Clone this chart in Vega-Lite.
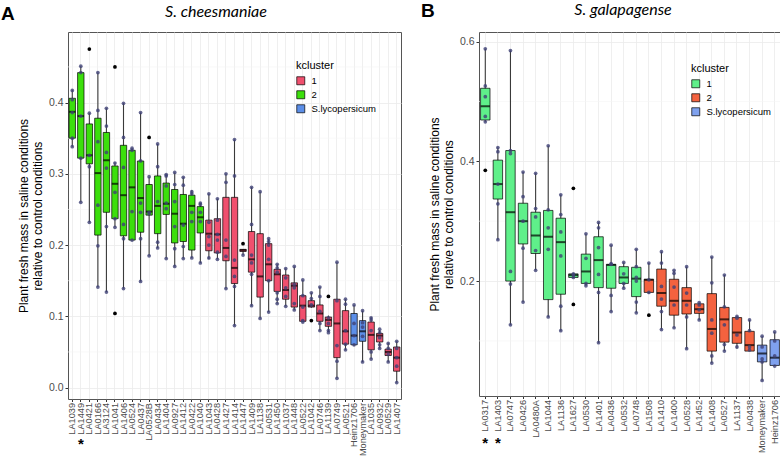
{
"$schema": "https://vega.github.io/schema/vega-lite/v6.json",
"padding": {"left": 0, "top": 1, "right": 0, "bottom": 0},
"background": "white",
"config": {
 "font": "Liberation Sans",
 "view": {"stroke": "#555555", "strokeWidth": 1},
 "axis": {"gridColor": "#EBEBEB", "gridWidth": 0.8, "domain": false, "tickColor": "#333333", "tickSize": 3, "labelColor": "#4D4D4D", "labelFontSize": 10, "titleFontWeight": "normal", "titleFontSize": 12, "titleColor": "#000000"},
 "legend": {"orient": "none", "titleFontSize": 11, "titleFontWeight": "normal", "labelFontSize": 9.5, "symbolType": "square", "symbolSize": 64, "symbolStrokeColor": "#000000", "symbolStrokeWidth": 0.7, "rowPadding": 2, "titlePadding": 5, "labelOffset": 6}
},
"datasets": {
 "boxA": [
  {"acc":"LA1039","cl":"2","lo":0.338,"q1":0.350,"med":0.387,"q3":0.406,"hi":0.418},
  {"acc":"LA1449","cl":"2","lo":0.260,"q1":0.322,"med":0.381,"q3":0.442,"hi":0.451},
  {"acc":"LA0421","cl":"2","lo":0.232,"q1":0.314,"med":0.326,"q3":0.370,"hi":0.385},
  {"acc":"LA0166","cl":"2","lo":0.141,"q1":0.214,"med":0.301,"q3":0.378,"hi":0.442},
  {"acc":"LA3124","cl":"2","lo":0.134,"q1":0.246,"med":0.319,"q3":0.358,"hi":0.392},
  {"acc":"LA1041","cl":"2","lo":0.225,"q1":0.237,"med":0.286,"q3":0.311,"hi":0.316},
  {"acc":"LA1406","cl":"2","lo":0.139,"q1":0.213,"med":0.270,"q3":0.340,"hi":0.399},
  {"acc":"LA0524","cl":"2","lo":0.207,"q1":0.207,"med":0.281,"q3":0.333,"hi":0.336},
  {"acc":"LA0437","cl":"2","lo":0.149,"q1":0.218,"med":0.266,"q3":0.318,"hi":0.386},
  {"acc":"LA0528B","cl":"2","lo":0.185,"q1":0.242,"med":0.247,"q3":0.285,"hi":0.296},
  {"acc":"LA0434","cl":"2","lo":0.196,"q1":0.216,"med":0.255,"q3":0.297,"hi":0.342},
  {"acc":"LA1404","cl":"2","lo":0.181,"q1":0.243,"med":0.258,"q3":0.287,"hi":0.299},
  {"acc":"LA0927","cl":"2","lo":0.170,"q1":0.203,"med":0.244,"q3":0.278,"hi":0.302},
  {"acc":"LA1412","cl":"2","lo":0.181,"q1":0.205,"med":0.230,"q3":0.271,"hi":0.295},
  {"acc":"LA0422","cl":"2","lo":0.182,"q1":0.193,"med":0.255,"q3":0.270,"hi":0.277},
  {"acc":"LA1040","cl":"2","lo":0.175,"q1":0.217,"med":0.239,"q3":0.254,"hi":0.259},
  {"acc":"LA1043","cl":"1","lo":0.180,"q1":0.192,"med":0.216,"q3":0.235,"hi":0.272},
  {"acc":"LA0428","cl":"1","lo":0.180,"q1":0.189,"med":0.215,"q3":0.237,"hi":0.265},
  {"acc":"LA1427","cl":"1","lo":0.139,"q1":0.178,"med":0.196,"q3":0.267,"hi":0.300},
  {"acc":"LA1414","cl":"1","lo":0.087,"q1":0.146,"med":0.168,"q3":0.267,"hi":0.348},
  {"acc":"LA1447","cl":"1","lo":0.186,"q1":0.191,"med":0.193,"q3":0.194,"hi":0.194},
  {"acc":"LA1409","cl":"1","lo":0.115,"q1":0.162,"med":0.180,"q3":0.219,"hi":0.281},
  {"acc":"LA1138","cl":"1","lo":0.097,"q1":0.127,"med":0.156,"q3":0.216,"hi":0.275},
  {"acc":"LA0531","cl":"1","lo":0.106,"q1":0.150,"med":0.173,"q3":0.202,"hi":0.209},
  {"acc":"LA1450","cl":"1","lo":0.118,"q1":0.135,"med":0.159,"q3":0.166,"hi":0.173},
  {"acc":"LA1037","cl":"1","lo":0.114,"q1":0.124,"med":0.137,"q3":0.158,"hi":0.167},
  {"acc":"LA1448","cl":"1","lo":0.109,"q1":0.113,"med":0.143,"q3":0.147,"hi":0.170},
  {"acc":"LA0522","cl":"1","lo":0.092,"q1":0.093,"med":0.115,"q3":0.129,"hi":0.151},
  {"acc":"LA1042","cl":"1","lo":0.112,"q1":0.113,"med":0.115,"q3":0.122,"hi":0.133},
  {"acc":"LA0746","cl":"1","lo":0.080,"q1":0.093,"med":0.104,"q3":0.116,"hi":0.141},
  {"acc":"LA1139","cl":"1","lo":0.078,"q1":0.086,"med":0.095,"q3":0.099,"hi":0.101},
  {"acc":"LA0749","cl":"1","lo":0.013,"q1":0.042,"med":0.090,"q3":0.124,"hi":0.176},
  {"acc":"LA0521","cl":"1","lo":0.053,"q1":0.061,"med":0.079,"q3":0.108,"hi":0.124},
  {"acc":"Heinz1706","cl":"S.lycopersicum","lo":0.059,"q1":0.060,"med":0.073,"q3":0.104,"hi":0.116},
  {"acc":"Moneymaker","cl":"S.lycopersicum","lo":0.036,"q1":0.065,"med":0.079,"q3":0.094,"hi":0.108},
  {"acc":"LA1035","cl":"1","lo":0.040,"q1":0.053,"med":0.074,"q3":0.092,"hi":0.099},
  {"acc":"LA0932","cl":"1","lo":0.055,"q1":0.064,"med":0.073,"q3":0.076,"hi":0.081},
  {"acc":"LA0529","cl":"1","lo":0.036,"q1":0.045,"med":0.050,"q3":0.054,"hi":0.063},
  {"acc":"LA1407","cl":"1","lo":0.007,"q1":0.023,"med":0.042,"q3":0.057,"hi":0.065}
 ],
 "ptsA": [
  {"acc":"LA1039","v":0.417},{"acc":"LA1039","v":0.404},{"acc":"LA1039","v":0.386},{"acc":"LA1039","v":0.350},{"acc":"LA1039","v":0.338},
  {"acc":"LA1449","v":0.451},{"acc":"LA1449","v":0.442},{"acc":"LA1449","v":0.381},{"acc":"LA1449","v":0.322},{"acc":"LA1449","v":0.260},
  {"acc":"LA0421","v":0.385},{"acc":"LA0421","v":0.326},{"acc":"LA0421","v":0.310},{"acc":"LA0421","v":0.232},
  {"acc":"LA0166","v":0.442},{"acc":"LA0166","v":0.389},{"acc":"LA0166","v":0.345},{"acc":"LA0166","v":0.256},{"acc":"LA0166","v":0.199},{"acc":"LA0166","v":0.141},
  {"acc":"LA3124","v":0.392},{"acc":"LA3124","v":0.367},{"acc":"LA3124","v":0.330},{"acc":"LA3124","v":0.308},{"acc":"LA3124","v":0.226},{"acc":"LA3124","v":0.134},
  {"acc":"LA1041","v":0.315},{"acc":"LA1041","v":0.274},{"acc":"LA1041","v":0.237},{"acc":"LA1041","v":0.225},
  {"acc":"LA1406","v":0.399},{"acc":"LA1406","v":0.351},{"acc":"LA1406","v":0.309},{"acc":"LA1406","v":0.229},{"acc":"LA1406","v":0.209},{"acc":"LA1406","v":0.139},
  {"acc":"LA0524","v":0.336},{"acc":"LA0524","v":0.333},{"acc":"LA0524","v":0.247},{"acc":"LA0524","v":0.207},
  {"acc":"LA0437","v":0.386},{"acc":"LA0437","v":0.318},{"acc":"LA0437","v":0.259},{"acc":"LA0437","v":0.246},{"acc":"LA0437","v":0.209},{"acc":"LA0437","v":0.149},
  {"acc":"LA0528B","v":0.296},{"acc":"LA0528B","v":0.246},{"acc":"LA0528B","v":0.244},{"acc":"LA0528B","v":0.185},
  {"acc":"LA0434","v":0.342},{"acc":"LA0434","v":0.310},{"acc":"LA0434","v":0.261},{"acc":"LA0434","v":0.204},{"acc":"LA0434","v":0.196},
  {"acc":"LA1404","v":0.299},{"acc":"LA1404","v":0.297},{"acc":"LA1404","v":0.283},{"acc":"LA1404","v":0.259},{"acc":"LA1404","v":0.251},{"acc":"LA1404","v":0.181},
  {"acc":"LA0927","v":0.302},{"acc":"LA0927","v":0.285},{"acc":"LA0927","v":0.261},{"acc":"LA0927","v":0.226},{"acc":"LA0927","v":0.195},{"acc":"LA0927","v":0.170},
  {"acc":"LA1412","v":0.295},{"acc":"LA1412","v":0.284},{"acc":"LA1412","v":0.228},{"acc":"LA1412","v":0.198},{"acc":"LA1412","v":0.181},
  {"acc":"LA0422","v":0.275},{"acc":"LA0422","v":0.272},{"acc":"LA0422","v":0.246},{"acc":"LA0422","v":0.233},{"acc":"LA0422","v":0.182},
  {"acc":"LA1040","v":0.259},{"acc":"LA1040","v":0.257},{"acc":"LA1040","v":0.246},{"acc":"LA1040","v":0.233},{"acc":"LA1040","v":0.175},
  {"acc":"LA1043","v":0.272},{"acc":"LA1043","v":0.232},{"acc":"LA1043","v":0.212},{"acc":"LA1043","v":0.200},{"acc":"LA1043","v":0.182},
  {"acc":"LA0428","v":0.265},{"acc":"LA0428","v":0.235},{"acc":"LA0428","v":0.215},{"acc":"LA0428","v":0.207},{"acc":"LA0428","v":0.190},{"acc":"LA0428","v":0.180},
  {"acc":"LA1427","v":0.300},{"acc":"LA1427","v":0.288},{"acc":"LA1427","v":0.207},{"acc":"LA1427","v":0.184},{"acc":"LA1427","v":0.139},
  {"acc":"LA1414","v":0.348},{"acc":"LA1414","v":0.297},{"acc":"LA1414","v":0.179},{"acc":"LA1414","v":0.156},{"acc":"LA1414","v":0.142},{"acc":"LA1414","v":0.087},
  {"acc":"LA1447","v":0.186},
  {"acc":"LA1409","v":0.281},{"acc":"LA1409","v":0.229},{"acc":"LA1409","v":0.186},{"acc":"LA1409","v":0.175},{"acc":"LA1409","v":0.159},{"acc":"LA1409","v":0.115},
  {"acc":"LA1138","v":0.275},{"acc":"LA1138","v":0.097},
  {"acc":"LA0531","v":0.209},{"acc":"LA0531","v":0.205},{"acc":"LA0531","v":0.200},{"acc":"LA0531","v":0.180},{"acc":"LA0531","v":0.150},{"acc":"LA0531","v":0.106},
  {"acc":"LA1450","v":0.173},{"acc":"LA1450","v":0.168},{"acc":"LA1450","v":0.162},{"acc":"LA1450","v":0.133},{"acc":"LA1450","v":0.124},{"acc":"LA1450","v":0.118},
  {"acc":"LA1037","v":0.167},{"acc":"LA1037","v":0.154},{"acc":"LA1037","v":0.140},{"acc":"LA1037","v":0.128},{"acc":"LA1037","v":0.114},
  {"acc":"LA1448","v":0.170},{"acc":"LA1448","v":0.145},{"acc":"LA1448","v":0.140},{"acc":"LA1448","v":0.118},{"acc":"LA1448","v":0.109},
  {"acc":"LA0522","v":0.151},{"acc":"LA0522","v":0.129},{"acc":"LA0522","v":0.113},{"acc":"LA0522","v":0.094},{"acc":"LA0522","v":0.092},
  {"acc":"LA1042","v":0.133},{"acc":"LA1042","v":0.125},{"acc":"LA1042","v":0.116},
  {"acc":"LA0746","v":0.141},{"acc":"LA0746","v":0.128},{"acc":"LA0746","v":0.107},{"acc":"LA0746","v":0.090},{"acc":"LA0746","v":0.080},
  {"acc":"LA1139","v":0.098},{"acc":"LA1139","v":0.090},{"acc":"LA1139","v":0.080},{"acc":"LA1139","v":0.077},
  {"acc":"LA0749","v":0.176},{"acc":"LA0749","v":0.122},{"acc":"LA0749","v":0.059},{"acc":"LA0749","v":0.037},{"acc":"LA0749","v":0.013},
  {"acc":"LA0521","v":0.124},{"acc":"LA0521","v":0.117},{"acc":"LA0521","v":0.080},{"acc":"LA0521","v":0.061},{"acc":"LA0521","v":0.053},
  {"acc":"Heinz1706","v":0.116},{"acc":"Heinz1706","v":0.090},{"acc":"Heinz1706","v":0.073},{"acc":"Heinz1706","v":0.060},
  {"acc":"Moneymaker","v":0.108},{"acc":"Moneymaker","v":0.091},{"acc":"Moneymaker","v":0.085},{"acc":"Moneymaker","v":0.072},{"acc":"Moneymaker","v":0.036},
  {"acc":"LA1035","v":0.098},{"acc":"LA1035","v":0.095},{"acc":"LA1035","v":0.080},{"acc":"LA1035","v":0.050},{"acc":"LA1035","v":0.040},
  {"acc":"LA0932","v":0.082},{"acc":"LA0932","v":0.077},{"acc":"LA0932","v":0.070},{"acc":"LA0932","v":0.060},{"acc":"LA0932","v":0.055},
  {"acc":"LA0529","v":0.062},{"acc":"LA0529","v":0.055},{"acc":"LA0529","v":0.047},{"acc":"LA0529","v":0.036},
  {"acc":"LA1407","v":0.065},{"acc":"LA1407","v":0.055},{"acc":"LA1407","v":0.042},{"acc":"LA1407","v":0.030},{"acc":"LA1407","v":0.007}
 ],
 "outA": [
  {"acc":"LA0421","v":0.475},{"acc":"LA1041","v":0.450},{"acc":"LA1041","v":0.104},{"acc":"LA0528B","v":0.351},{"acc":"LA1447","v":0.202},{"acc":"LA1139","v":0.128},{"acc":"LA1042","v":0.094}
 ],
 "minorA": [{"g":0.05},{"g":0.15},{"g":0.25},{"g":0.35},{"g":0.45}],
 "starA": [{"acc":"LA1449","s":"*"}],
 "boxB": [
  {"acc":"LA0317","cl":"1","lo":0.466,"q1":0.469,"med":0.492,"q3":0.522,"hi":0.588},
  {"acc":"LA1403","cl":"1","lo":0.269,"q1":0.337,"med":0.362,"q3":0.402,"hi":0.423},
  {"acc":"LA0747","cl":"1","lo":0.127,"q1":0.200,"med":0.315,"q3":0.418,"hi":0.585},
  {"acc":"LA0426","cl":"1","lo":0.165,"q1":0.262,"med":0.300,"q3":0.330,"hi":0.382},
  {"acc":"LA0480A","cl":"1","lo":0.218,"q1":0.246,"med":0.276,"q3":0.315,"hi":0.380},
  {"acc":"LA1044","cl":"1","lo":0.140,"q1":0.169,"med":0.274,"q3":0.318,"hi":0.426},
  {"acc":"LA1136","cl":"1","lo":0.117,"q1":0.178,"med":0.265,"q3":0.305,"hi":0.344},
  {"acc":"LA1627","cl":"1","lo":0.206,"q1":0.206,"med":0.210,"q3":0.212,"hi":0.212},
  {"acc":"LA0530","cl":"1","lo":0.192,"q1":0.196,"med":0.216,"q3":0.245,"hi":0.279},
  {"acc":"LA1401","cl":"1","lo":0.097,"q1":0.189,"med":0.235,"q3":0.274,"hi":0.298},
  {"acc":"LA0436","cl":"1","lo":0.149,"q1":0.188,"med":0.227,"q3":0.228,"hi":0.260},
  {"acc":"LA0532","cl":"1","lo":0.188,"q1":0.196,"med":0.206,"q3":0.224,"hi":0.231},
  {"acc":"LA0748","cl":"1","lo":0.147,"q1":0.174,"med":0.204,"q3":0.223,"hi":0.253},
  {"acc":"LA1508","cl":"2","lo":0.179,"q1":0.181,"med":0.202,"q3":0.203,"hi":0.230},
  {"acc":"LA1410","cl":"2","lo":0.119,"q1":0.158,"med":0.180,"q3":0.220,"hi":0.249},
  {"acc":"LA1400","cl":"2","lo":0.122,"q1":0.143,"med":0.167,"q3":0.203,"hi":0.218},
  {"acc":"LA0528","cl":"2","lo":0.087,"q1":0.145,"med":0.167,"q3":0.189,"hi":0.224},
  {"acc":"LA1452","cl":"2","lo":0.135,"q1":0.146,"med":0.153,"q3":0.162,"hi":0.164},
  {"acc":"LA1408","cl":"2","lo":0.063,"q1":0.083,"med":0.120,"q3":0.179,"hi":0.240},
  {"acc":"LA0527","cl":"2","lo":0.083,"q1":0.098,"med":0.136,"q3":0.156,"hi":0.210},
  {"acc":"LA1137","cl":"2","lo":0.087,"q1":0.096,"med":0.114,"q3":0.139,"hi":0.141},
  {"acc":"LA0438","cl":"2","lo":0.083,"q1":0.083,"med":0.093,"q3":0.116,"hi":0.135},
  {"acc":"Moneymaker","cl":"S.lycopersicum","lo":0.034,"q1":0.065,"med":0.079,"q3":0.093,"hi":0.108},
  {"acc":"Heinz1706","cl":"S.lycopersicum","lo":0.058,"q1":0.059,"med":0.072,"q3":0.102,"hi":0.115}
 ],
 "ptsB": [
  {"acc":"LA0317","v":0.588},{"acc":"LA0317","v":0.526},{"acc":"LA0317","v":0.508},{"acc":"LA0317","v":0.475},{"acc":"LA0317","v":0.466},
  {"acc":"LA1403","v":0.423},{"acc":"LA1403","v":0.416},{"acc":"LA1403","v":0.362},{"acc":"LA1403","v":0.329},{"acc":"LA1403","v":0.269},
  {"acc":"LA0747","v":0.585},{"acc":"LA0747","v":0.418},{"acc":"LA0747","v":0.413},{"acc":"LA0747","v":0.216},{"acc":"LA0747","v":0.195},{"acc":"LA0747","v":0.127},
  {"acc":"LA0426","v":0.382},{"acc":"LA0426","v":0.341},{"acc":"LA0426","v":0.300},{"acc":"LA0426","v":0.255},{"acc":"LA0426","v":0.165},
  {"acc":"LA0480A","v":0.380},{"acc":"LA0480A","v":0.321},{"acc":"LA0480A","v":0.307},{"acc":"LA0480A","v":0.251},{"acc":"LA0480A","v":0.218},
  {"acc":"LA1044","v":0.426},{"acc":"LA1044","v":0.319},{"acc":"LA1044","v":0.289},{"acc":"LA1044","v":0.253},{"acc":"LA1044","v":0.140},
  {"acc":"LA1136","v":0.344},{"acc":"LA1136","v":0.311},{"acc":"LA1136","v":0.282},{"acc":"LA1136","v":0.242},{"acc":"LA1136","v":0.158},{"acc":"LA1136","v":0.117},
  {"acc":"LA1627","v":0.212},{"acc":"LA1627","v":0.210},{"acc":"LA1627","v":0.206},
  {"acc":"LA0530","v":0.279},{"acc":"LA0530","v":0.238},{"acc":"LA0530","v":0.196},{"acc":"LA0530","v":0.192},
  {"acc":"LA1401","v":0.298},{"acc":"LA1401","v":0.289},{"acc":"LA1401","v":0.256},{"acc":"LA1401","v":0.211},{"acc":"LA1401","v":0.181},{"acc":"LA1401","v":0.097},
  {"acc":"LA0436","v":0.260},{"acc":"LA0436","v":0.229},{"acc":"LA0436","v":0.228},{"acc":"LA0436","v":0.176},{"acc":"LA0436","v":0.149},
  {"acc":"LA0532","v":0.231},{"acc":"LA0532","v":0.212},{"acc":"LA0532","v":0.196},{"acc":"LA0532","v":0.188},
  {"acc":"LA0748","v":0.253},{"acc":"LA0748","v":0.224},{"acc":"LA0748","v":0.206},{"acc":"LA0748","v":0.200},{"acc":"LA0748","v":0.165},{"acc":"LA0748","v":0.147},
  {"acc":"LA1508","v":0.230},{"acc":"LA1508","v":0.202},{"acc":"LA1508","v":0.181},
  {"acc":"LA1410","v":0.249},{"acc":"LA1410","v":0.230},{"acc":"LA1410","v":0.191},{"acc":"LA1410","v":0.170},{"acc":"LA1410","v":0.149},{"acc":"LA1410","v":0.119},
  {"acc":"LA1400","v":0.218},{"acc":"LA1400","v":0.213},{"acc":"LA1400","v":0.190},{"acc":"LA1400","v":0.160},{"acc":"LA1400","v":0.122},
  {"acc":"LA0528","v":0.224},{"acc":"LA0528","v":0.180},{"acc":"LA0528","v":0.160},{"acc":"LA0528","v":0.140},{"acc":"LA0528","v":0.087},
  {"acc":"LA1452","v":0.164},{"acc":"LA1452","v":0.160},{"acc":"LA1452","v":0.152},{"acc":"LA1452","v":0.135},
  {"acc":"LA1408","v":0.240},{"acc":"LA1408","v":0.197},{"acc":"LA1408","v":0.135},{"acc":"LA1408","v":0.113},{"acc":"LA1408","v":0.075},{"acc":"LA1408","v":0.063},
  {"acc":"LA0527","v":0.210},{"acc":"LA0527","v":0.157},{"acc":"LA0527","v":0.127},{"acc":"LA0527","v":0.094},{"acc":"LA0527","v":0.083},
  {"acc":"LA1137","v":0.141},{"acc":"LA1137","v":0.138},{"acc":"LA1137","v":0.110},{"acc":"LA1137","v":0.090},
  {"acc":"LA0438","v":0.135},{"acc":"LA0438","v":0.117},{"acc":"LA0438","v":0.090},{"acc":"LA0438","v":0.085},
  {"acc":"Moneymaker","v":0.108},{"acc":"Moneymaker","v":0.090},{"acc":"Moneymaker","v":0.070},{"acc":"Moneymaker","v":0.065},{"acc":"Moneymaker","v":0.034},
  {"acc":"Heinz1706","v":0.115},{"acc":"Heinz1706","v":0.100},{"acc":"Heinz1706","v":0.075},{"acc":"Heinz1706","v":0.058}
 ],
 "outB": [{"acc":"LA0317","v":0.385},{"acc":"LA1627","v":0.355},{"acc":"LA1627","v":0.161},{"acc":"LA1508","v":0.143}],
 "minorB": [{"g":0.1},{"g":0.3},{"g":0.5}],
 "starB": [{"acc":"LA0317","s":"*"},{"acc":"LA1403","s":"*"}],
 "labA": [{"t":"A"}],
 "labB": [{"t":"B"}],
 "titA": [{"t":"S. cheesmaniae"}],
 "titB": [{"t":"S. galapagense"}]
},
"spacing": 18,
"resolve": {"scale": {"color": "independent", "x": "independent", "y": "independent"}, "legend": {"color": "independent"}},
"hconcat": [
 {
  "width": 333, "height": 367,
  "layer": [
   {"data": {"name": "minorA"}, "mark": {"type": "rule", "color": "#F5F5F5", "strokeWidth": 0.6},
    "encoding": {"y": {"field": "g", "type": "quantitative", "scale": {"domain": [-0.016, 0.499], "nice": false, "zero": false},
      "axis": {"values": [0, 0.1, 0.2, 0.3, 0.4], "format": ".1f", "title": ["Plant fresh mass in saline conditions", "relative to control conditions"], "titleLineHeight": 14, "titlePadding": 4, "labelFontSize": 10.5}}}},
   {"data": {"name": "boxA"}, "mark": {"type": "rule", "color": "#3a3a3a", "strokeWidth": 1.1},
    "encoding": {
     "x": {"field": "acc", "type": "nominal", "scale": {"domain": ["LA1039","LA1449","LA0421","LA0166","LA3124","LA1041","LA1406","LA0524","LA0437","LA0528B","LA0434","LA1404","LA0927","LA1412","LA0422","LA1040","LA1043","LA0428","LA1427","LA1414","LA1447","LA1409","LA1138","LA0531","LA1450","LA1037","LA1448","LA0522","LA1042","LA0746","LA1139","LA0749","LA0521","Heinz1706","Moneymaker","LA1035","LA0932","LA0529","LA1407"]},
      "axis": {"title": null, "labelAngle": 270, "grid": true, "labelPadding": 1, "labelFontSize": 9.2, "tickSize": 2.5}},
     "y": {"field": "lo", "type": "quantitative", "scale": {"domain": [-0.016, 0.499], "nice": false, "zero": false},
      "axis": {"values": [0, 0.1, 0.2, 0.3, 0.4], "format": ".1f", "title": ["Plant fresh mass in saline conditions", "relative to control conditions"], "titleLineHeight": 14, "titlePadding": 4, "labelFontSize": 10.5}},
     "y2": {"field": "hi"}}},
   {"data": {"name": "boxA"}, "mark": {"type": "bar", "width": {"band": 0.75}, "stroke": "#000000", "strokeWidth": 0.7},
    "encoding": {
     "x": {"field": "acc", "type": "nominal"},
     "y": {"field": "q1", "type": "quantitative"}, "y2": {"field": "q3"},
     "color": {"field": "cl", "type": "nominal", "scale": {"domain": ["1", "2", "S.lycopersicum"], "range": ["#F0506E", "#3CDF0C", "#5C8FE8"]},
      "legend": {"title": "kcluster", "legendX": 228, "legendY": 28}}}},
   {"data": {"name": "boxA"}, "mark": {"type": "tick", "color": "#000000", "size": 6.4, "thickness": 2},
    "encoding": {"x": {"field": "acc", "type": "nominal"}, "y": {"field": "med", "type": "quantitative"}}},
   {"data": {"name": "ptsA"}, "mark": {"type": "circle", "color": "#3E4175", "opacity": 0.8, "size": 14},
    "encoding": {"x": {"field": "acc", "type": "nominal"}, "y": {"field": "v", "type": "quantitative"}}},
   {"data": {"name": "outA"}, "mark": {"type": "circle", "color": "#000000", "opacity": 1, "size": 14},
    "encoding": {"x": {"field": "acc", "type": "nominal"}, "y": {"field": "v", "type": "quantitative"}}},
   {"data": {"name": "starA"}, "mark": {"type": "text", "fontSize": 15, "fontWeight": "bold", "baseline": "middle"},
    "encoding": {"x": {"field": "acc", "type": "nominal"}, "y": {"datum": -0.079, "type": "quantitative"}, "text": {"field": "s"}}},
   {"data": {"name": "labA"}, "mark": {"type": "text", "fontSize": 19, "fontWeight": "bold", "align": "left", "baseline": "alphabetic", "x": -67, "y": -12},
    "encoding": {"text": {"field": "t"}}},
   {"data": {"name": "titA"}, "mark": {"type": "text", "font": "Lato", "fontStyle": "italic", "fontSize": 16, "align": "center", "baseline": "alphabetic", "x": 148, "y": -15},
    "encoding": {"text": {"field": "t"}}}
  ]
 },
 {
  "width": 302, "height": 364,
  "layer": [
   {"data": {"name": "minorB"}, "mark": {"type": "rule", "color": "#F5F5F5", "strokeWidth": 0.6},
    "encoding": {"y": {"field": "g", "type": "quantitative", "scale": {"domain": [0.008, 0.616], "nice": false, "zero": false},
      "axis": {"values": [0.2, 0.4, 0.6], "format": ".1f", "title": ["Plant fresh mass in saline conditions", "relative to control conditions"], "titleLineHeight": 14, "titlePadding": 4, "labelFontSize": 10.5}}}},
   {"data": {"name": "boxB"}, "mark": {"type": "rule", "color": "#3a3a3a", "strokeWidth": 1.1},
    "encoding": {
     "x": {"field": "acc", "type": "nominal", "scale": {"domain": ["LA0317","LA1403","LA0747","LA0426","LA0480A","LA1044","LA1136","LA1627","LA0530","LA1401","LA0436","LA0532","LA0748","LA1508","LA1410","LA1400","LA0528","LA1452","LA1408","LA0527","LA1137","LA0438","Moneymaker","Heinz1706"]},
      "axis": {"title": null, "labelAngle": 270, "grid": true, "labelPadding": 1, "labelFontSize": 9.2, "tickSize": 2.5}},
     "y": {"field": "lo", "type": "quantitative", "scale": {"domain": [0.008, 0.616], "nice": false, "zero": false},
      "axis": {"values": [0.2, 0.4, 0.6], "format": ".1f", "title": ["Plant fresh mass in saline conditions", "relative to control conditions"], "titleLineHeight": 14, "titlePadding": 4, "labelFontSize": 10.5}},
     "y2": {"field": "hi"}}},
   {"data": {"name": "boxB"}, "mark": {"type": "bar", "width": {"band": 0.75}, "stroke": "#000000", "strokeWidth": 0.7},
    "encoding": {
     "x": {"field": "acc", "type": "nominal"},
     "y": {"field": "q1", "type": "quantitative"}, "y2": {"field": "q3"},
     "color": {"field": "cl", "type": "nominal", "scale": {"domain": ["1", "2", "S.lycopersicum"], "range": ["#5FF08A", "#F4623F", "#7FA1EE"]},
      "legend": {"title": "kcluster", "legendX": 212, "legendY": 31}}}},
   {"data": {"name": "boxB"}, "mark": {"type": "tick", "color": "#000000", "size": 9.4, "thickness": 2},
    "encoding": {"x": {"field": "acc", "type": "nominal"}, "y": {"field": "med", "type": "quantitative"}}},
   {"data": {"name": "ptsB"}, "mark": {"type": "circle", "color": "#3E4175", "opacity": 0.8, "size": 14},
    "encoding": {"x": {"field": "acc", "type": "nominal"}, "y": {"field": "v", "type": "quantitative"}}},
   {"data": {"name": "outB"}, "mark": {"type": "circle", "color": "#000000", "opacity": 1, "size": 14},
    "encoding": {"x": {"field": "acc", "type": "nominal"}, "y": {"field": "v", "type": "quantitative"}}},
   {"data": {"name": "starB"}, "mark": {"type": "text", "fontSize": 15, "fontWeight": "bold", "baseline": "middle"},
    "encoding": {"x": {"field": "acc", "type": "nominal"}, "y": {"datum": -0.070, "type": "quantitative"}, "text": {"field": "s"}}},
   {"data": {"name": "labB"}, "mark": {"type": "text", "fontSize": 19, "fontWeight": "bold", "align": "left", "baseline": "alphabetic", "x": -58, "y": -15},
    "encoding": {"text": {"field": "t"}}},
   {"data": {"name": "titB"}, "mark": {"type": "text", "font": "Lato", "fontStyle": "italic", "fontSize": 16, "align": "center", "baseline": "alphabetic", "x": 144, "y": -17},
    "encoding": {"text": {"field": "t"}}}
  ]
 }
]
}
